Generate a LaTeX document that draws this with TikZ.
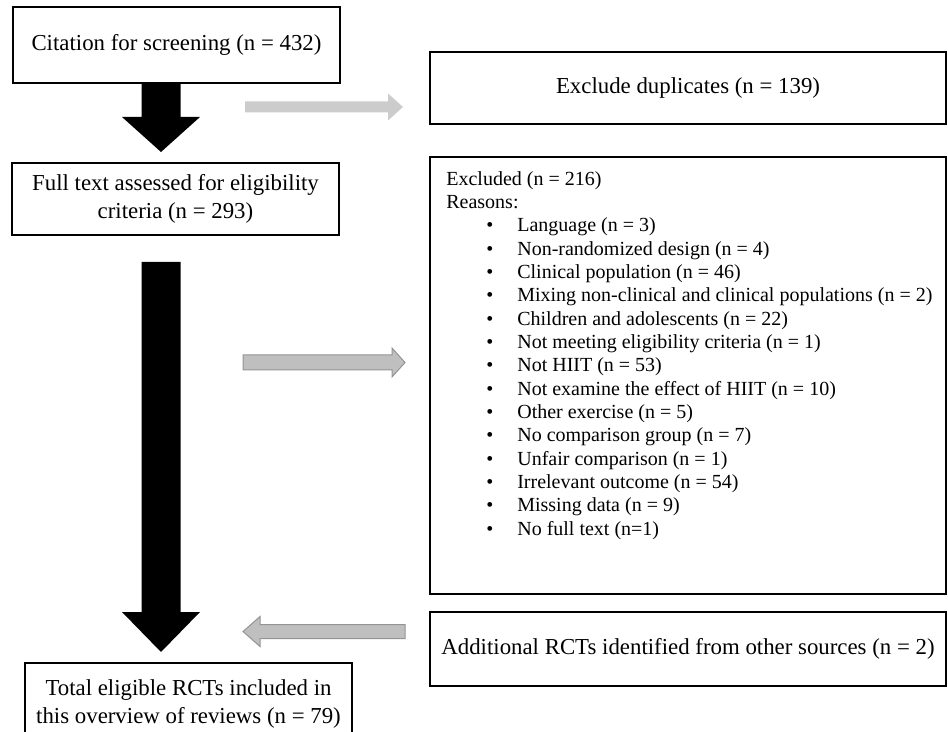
\documentclass[tikz,border=0pt]{standalone}
\usepackage{fontspec}
\setmainfont{Liberation Serif}
\usepackage{tikz}
\usetikzlibrary{calc}

\tikzset{
  box/.style={draw, line width=1.2pt, inner sep=2pt, align=center,
    font=\fontsize{13.7}{16.8}\selectfont},
  bigarrow/.style={fill=black},
  lightarrow/.style={fill=black!20},
  greyarrow/.style={fill=black!25, draw=black!42, line width=0.6pt},
}

% block arrow: style, tail, tip, half shaft, half head, head length
\newcommand{\blockarrow}[6]{%
  \coordinate (batail) at (#2);
  \coordinate (batip) at (#3);
  \coordinate (babase) at ($(batip)!#6!(batail)$);
  \path[#1] ($(batail)!#4!90:(batip)$) -- ($(babase)!#4!90:(batip)$)
    -- ($(babase)!#5!90:(batip)$) -- (batip)
    -- ($(babase)!#5!-90:(batip)$) -- ($(babase)!#4!-90:(batip)$)
    -- ($(batail)!#4!-90:(batip)$) -- cycle;
}
\newcommand{\reason}[1]{\hspace*{24pt}\makebox[18.6pt][l]{\textbullet}#1}

\begin{document}
\begin{tikzpicture}[x=0.6pt, y=-0.6pt]
\useasboundingbox (0,0) rectangle (948,732);

% left column
\node[box, minimum width=196.2pt, minimum height=45.6pt] (cite) at (176.5,45)
  {Citation for screening (n = 432)};
\node[box, minimum width=196.2pt, minimum height=43.2pt] (full) at (175.5,199)
  {Full text assessed for eligibility\\criteria (n = 293)};
\node[box, minimum width=196.2pt, minimum height=49.2pt] (total) at (188.5,704)
  {Total eligible RCTs included in\\this overview of reviews (n = 79)};

% right column
\node[box, minimum width=309.6pt, minimum height=43.2pt] (dup) at (688,88)
  {Exclude duplicates (n = 139)};
\node[box, minimum width=309.6pt, minimum height=262.2pt] (excl) at (688,375.5) {};
\node[anchor=north west, align=left, inner sep=0pt,
  font=\fontsize{12}{14}\selectfont] (reasons)
  at ($(excl.north west)+(17,15)$)
  {Excluded (n = 216)\\
   Reasons:\\
   \reason{Language (n = 3)}\\
   \reason{Non-randomized design (n = 4)}\\
   \reason{Clinical population (n = 46)}\\
   \reason{Mixing non-clinical and clinical populations (n = 2)}\\
   \reason{Children and adolescents (n = 22)}\\
   \reason{Not meeting eligibility criteria (n = 1)}\\
   \reason{Not HIIT (n = 53)}\\
   \reason{Not examine the effect of HIIT (n = 10)}\\
   \reason{Other exercise (n = 5)}\\
   \reason{No comparison group (n = 7)}\\
   \reason{Unfair comparison (n = 1)}\\
   \reason{Irrelevant outcome (n = 54)}\\
   \reason{Missing data (n = 9)}\\
   \reason{No full text (n=1)}};
\node[box, minimum width=309.6pt, minimum height=44.4pt] (other) at (688,649)
  {Additional RCTs identified from other sources (n = 2)};

% arrow ends
\coordinate (a1tail) at (161,0 |- cite.south);
\coordinate (a1tip) at ($(161,0 |- full.north)+(0,-10)$);
\coordinate (a2tail) at (161,262);
\coordinate (a2tip) at ($(161,0 |- total.north)+(0,-10)$);
\coordinate (g1tail) at (245,107);
\coordinate (g1tip) at (403,107);
\coordinate (g2tail) at (243,362.5);
\coordinate (g2tip) at (405,362.5);
\coordinate (g3tail) at (405,631.5);
\coordinate (g3tip) at (243,631.5);

\blockarrow{bigarrow}{a1tail}{a1tip}{11.7pt}{23.4pt}{21pt}
\blockarrow{bigarrow}{a2tail}{a2tip}{11.7pt}{23.4pt}{24pt}
\blockarrow{lightarrow}{g1tail}{g1tip}{3.3pt}{8.1pt}{9pt}
\blockarrow{greyarrow}{g2tail}{g2tip}{4.5pt}{8.7pt}{7.8pt}
\blockarrow{greyarrow}{g3tail}{g3tip}{4.2pt}{9pt}{10.2pt}
\end{tikzpicture}
\end{document}
